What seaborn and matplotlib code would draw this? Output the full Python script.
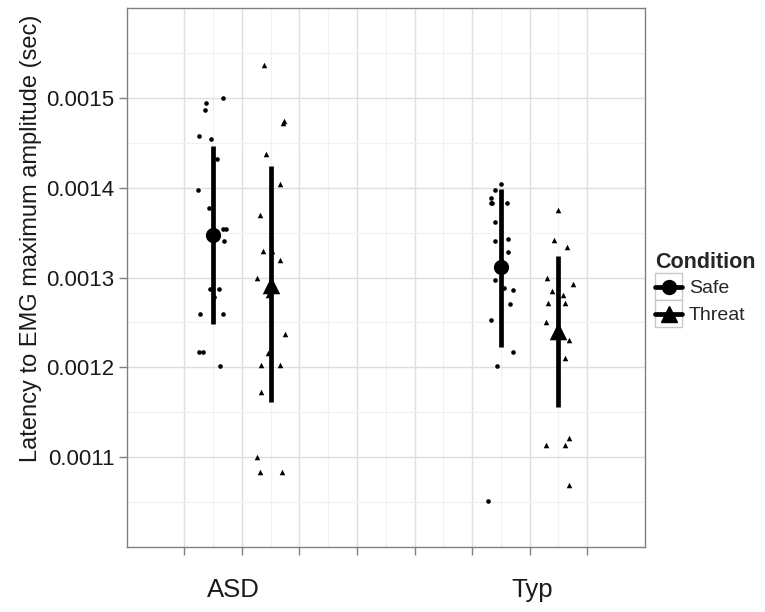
import matplotlib
matplotlib.use("Agg")
import matplotlib.pyplot as plt
import matplotlib.transforms as mtransforms
from matplotlib.lines import Line2D
from matplotlib.patches import Rectangle
from matplotlib.legend_handler import HandlerTuple, HandlerLine2D
import numpy as np
import pandas as pd
import seaborn as sns

# --- data ---
groups = ["ASD", "Typ"]
conditions = ["Safe", "Threat"]
group_pos = {"ASD": 2.0, "Typ": 7.0}
cond_shift = {"Safe": -0.5, "Threat": 0.5}

asd_safe = [0.001494, 0.001487, 0.001500, 0.001458, 0.001454, 0.001432, 0.001397,
            0.001377, 0.001354, 0.001354, 0.001341, 0.001287, 0.001287, 0.001278,
            0.001259, 0.001259, 0.001217, 0.001217, 0.001201]
asd_safe_jit = [-0.13, -0.15, 0.17, -0.25, -0.03, 0.07, -0.27, -0.08, 0.17, 0.23,
                0.19, -0.05, 0.10, 0.02, -0.23, 0.17, -0.25, -0.17, 0.12]

asd_threat = [0.001536, 0.001472, 0.001474, 0.001437, 0.001404, 0.001370, 0.001329,
              0.001329, 0.001320, 0.001300, 0.001281, 0.001237, 0.001216, 0.001203,
              0.001203, 0.001172, 0.001100, 0.001084, 0.001084]
asd_threat_jit = [-0.12, 0.21, 0.23, -0.08, 0.16, -0.18, -0.13, 0.02, 0.16, -0.23,
                  -0.04, 0.25, -0.04, -0.16, 0.17, -0.17, -0.23, -0.18, 0.20]

typ_safe = [0.001404, 0.001397, 0.001389, 0.001383, 0.001383, 0.001383, 0.001362,
            0.001341, 0.001343, 0.001328, 0.001297, 0.001288, 0.001286, 0.001271,
            0.001253, 0.001217, 0.001201, 0.001051]
typ_safe_jit = [0.01, -0.11, -0.17, -0.18, -0.15, 0.11, -0.11, -0.10, 0.13, 0.13,
                -0.11, 0.06, 0.21, 0.15, -0.17, 0.21, -0.07, -0.23]

typ_threat = [0.001375, 0.001342, 0.001334, 0.001299, 0.001293, 0.001285, 0.001280,
              0.001272, 0.001272, 0.001251, 0.001230, 0.001210, 0.001113, 0.001114,
              0.001121, 0.001069]
typ_threat_jit = [-0.01, -0.07, 0.14, -0.20, 0.25, -0.12, 0.08, -0.18, 0.12, -0.21,
                  0.19, 0.11, -0.21, 0.11, 0.18, 0.19]

# summary (mean and bar ends) per group/condition
sum_group = ["ASD", "ASD", "Typ", "Typ"]
sum_cond = ["Safe", "Threat", "Safe", "Threat"]
sum_mean = [0.001347, 0.001292, 0.001312, 0.001240]
sum_low = [0.001248, 0.001161, 0.001223, 0.001156]
sum_high = [0.001446, 0.001424, 0.001399, 0.001324]

yticks = [0.0011, 0.0012, 0.0013, 0.0014, 0.0015]
group_label_x = {"ASD": 1.85, "Typ": 7.05}

# build long table
rows = []
for g, c, vals, jit in [("ASD", "Safe", asd_safe, asd_safe_jit),
                        ("ASD", "Threat", asd_threat, asd_threat_jit),
                        ("Typ", "Safe", typ_safe, typ_safe_jit),
                        ("Typ", "Threat", typ_threat, typ_threat_jit)]:
    for v, j in zip(vals, jit):
        rows.append({"Group": g, "Condition": c, "latency": v,
                     "x": group_pos[g] + cond_shift[c] + j})
df = pd.DataFrame(rows)

summ = pd.DataFrame({"Group": sum_group, "Condition": sum_cond, "mean": sum_mean,
                     "low": sum_low, "high": sum_high})
summ["x"] = [group_pos[g] + cond_shift[c] for g, c in zip(sum_group, sum_cond)]

sns.set_theme(style="white")
plt.rcParams["font.family"] = ["Liberation Sans", "DejaVu Sans"]

fig = plt.figure(figsize=(7.65, 6.12), dpi=100)
ax = fig.add_axes([126.8 / 765, 1 - 547 / 612, (644.8 - 126.8) / 765, (547 - 8) / 612])

markers = {"Safe": "o", "Threat": "^"}

# raw points
sns.scatterplot(data=df[df.Condition == "Safe"], x="x", y="latency", marker="o",
                color="black", s=11, linewidth=0, ax=ax, zorder=2, legend=False)
sns.scatterplot(data=df[df.Condition == "Threat"], x="x", y="latency", marker="^",
                color="black", s=16, linewidth=0, ax=ax, zorder=2, legend=False)

# ranges
ax.vlines(summ["x"], summ["low"], summ["high"], color="black", lw=3.4, zorder=3)

# means
sns.scatterplot(data=summ[summ.Condition == "Safe"], x="x", y="mean", marker="o",
                color="black", s=120, linewidth=0, ax=ax, zorder=4, legend=False)
sns.scatterplot(data=summ[summ.Condition == "Threat"], x="x", y="mean", marker="^",
                color="black", s=160, linewidth=0, ax=ax, zorder=4, legend=False)

ax.set_xlim(0, 9)
ax.set_ylim(0.0010, 0.0016)
ax.set_xticks(np.arange(1, 9))
ax.set_xticklabels([""] * 8)
ax.set_xticks(np.arange(1.5, 8.0, 1.0), minor=True)
ax.set_yticks(yticks)
ax.set_yticklabels([f"{t:.4f}" for t in yticks])
ax.set_yticks(np.arange(0.00105, 0.0016, 0.0001), minor=True)
ax.set_xlabel("")
ax.set_ylabel("")

ax.grid(which="major", color="#dedede", lw=1.0)
ax.grid(which="minor", color="#f1f1f1", lw=0.9)
ax.set_axisbelow(True)
for sp in ax.spines.values():
    sp.set_color("#808080")
    sp.set_linewidth(1.0)
ax.tick_params(which="major", length=5.5, width=1, color="#808080",
               labelsize=16, labelcolor="#1a1a1a", pad=3.5, left=True, bottom=True)
ax.tick_params(which="minor", length=0)

trans = mtransforms.blended_transform_factory(ax.transData, ax.transAxes)
for g in groups:
    ax.text(group_label_x[g], (547 - 597) / 539, g, transform=trans, ha="center",
            va="baseline", fontsize=18.5, color="#1a1a1a")

fig.text(31 / 765, 1 - 238 / 612, "Latency to EMG maximum amplitude (sec)",
         rotation=90, ha="center", va="center", fontsize=17, color="#1a1a1a")


# legend key: put the marker in the middle of its box
class CentredLine(HandlerLine2D):
    def create_artists(self, legend, orig_handle, xdescent, ydescent, width,
                       height, fontsize, trans):
        arts = super().create_artists(legend, orig_handle, xdescent, ydescent,
                                      width, height, fontsize, trans)
        for a in arts:
            a.set_ydata(np.asarray(a.get_ydata()) - ydescent / 2)
        return arts


handles = []
for c in conditions:
    box = Rectangle((0, 0), 1, 1, facecolor="white", edgecolor="#c8c8c8", lw=1)
    mk = Line2D([], [], color="black", lw=3.4, marker=markers[c],
                markersize=10 if c == "Safe" else 11)
    handles.append((box, mk))
fig.legend(handles, conditions, title="Condition", loc="upper left",
           bbox_to_anchor=(655 / 765, 1 - 252 / 612), frameon=False, fontsize=14,
           title_fontproperties={"weight": "bold", "size": 15.5}, alignment="left",
           handlelength=1.39, handleheight=1.76, handletextpad=0.35,
           labelspacing=0, borderpad=0, borderaxespad=0, numpoints=1,
           handler_map={tuple: HandlerTuple(ndivide=1, pad=0),
                        Line2D: CentredLine()})

fig.savefig("out.png", dpi=100)
